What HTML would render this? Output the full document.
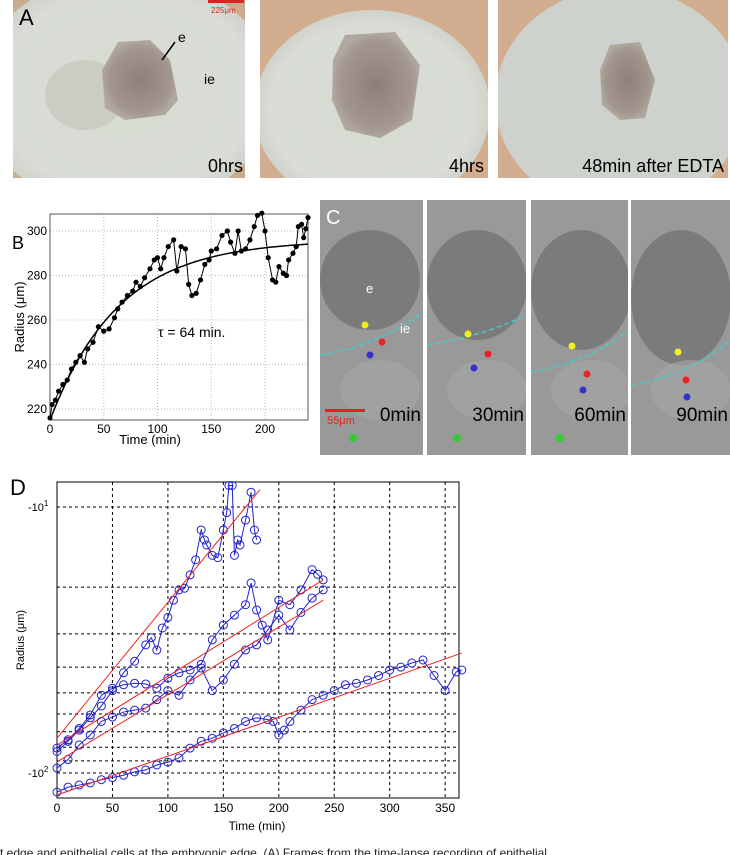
<!DOCTYPE html>
<html><head><meta charset="utf-8"><style>
body{margin:0;background:#fff;width:730px;height:855px;overflow:hidden;font-family:"Liberation Sans",sans-serif}
svg{display:block}
</style></head><body>
<svg id="fig" width="730" height="855" viewBox="0 0 730 855">
<defs>
<radialGradient id="disk" cx="50%" cy="50%" r="50%"><stop offset="0" stop-color="#d6dbd2"/><stop offset="0.85" stop-color="#d9ddd5"/><stop offset="1" stop-color="#cfd3cb"/></radialGradient>
<radialGradient id="blob" cx="50%" cy="50%" r="50%"><stop offset="0" stop-color="#8e8078"/><stop offset="0.8" stop-color="#a2968e"/><stop offset="1" stop-color="#b0a8a0"/></radialGradient>
<clipPath id="cA1"><rect x="13" y="0" width="232" height="178"/></clipPath>
<clipPath id="cA2"><rect x="260" y="0" width="228" height="178"/></clipPath>
<clipPath id="cA3"><rect x="498" y="0" width="230" height="178"/></clipPath>
<clipPath id="cC0"><rect x="320" y="200" width="103" height="255"/></clipPath>
<clipPath id="cC1"><rect x="427" y="200" width="99" height="255"/></clipPath>
<clipPath id="cC2"><rect x="531" y="200" width="97" height="255"/></clipPath>
<clipPath id="cC3"><rect x="631" y="200" width="99" height="255"/></clipPath>
</defs>
<g>
 <g clip-path="url(#cA1)">
  <rect x="13" y="0" width="232" height="178" fill="#c9ab90"/>
  <ellipse cx="125" cy="92" rx="150" ry="118" fill="url(#disk)"/>
  <ellipse cx="85" cy="95" rx="40" ry="35" fill="#c4c2ba" opacity="0.6"/>
  <path d="M118 42 L150 40 L170 60 L178 100 L165 115 L125 120 L105 108 L102 70 Z" fill="url(#blob)"/>
  <line x1="175" y1="42" x2="162" y2="60" stroke="#000" stroke-width="1.5"/>
  <text x="178" y="42" font-size="14">e</text>
  <text x="204" y="84" font-size="14">ie</text>
  <text x="19" y="25" font-size="22">A</text>
  <rect x="208" y="0" width="36" height="3" fill="#d22"/>
  <text x="211" y="13" font-size="8" fill="#d22">225μm</text>
  <text x="243" y="172" font-size="18" text-anchor="end">0hrs</text>
 </g>
 <g clip-path="url(#cA2)">
  <rect x="260" y="0" width="228" height="178" fill="#d3ad90"/>
  <ellipse cx="372" cy="110" rx="118" ry="100" fill="url(#disk)"/>
  <path d="M345 35 L395 32 L420 65 L412 120 L380 138 L345 130 L332 100 L333 60 Z" fill="url(#blob)"/>
  <text x="484" y="172" font-size="18" text-anchor="end">4hrs</text>
 </g>
 <g clip-path="url(#cA3)">
  <rect x="498" y="0" width="230" height="178" fill="#d3ad90"/>
  <ellipse cx="620" cy="100" rx="125" ry="112" fill="#cdd2cd"/>
  <path d="M610 45 L640 42 L655 80 L645 118 L620 120 L602 105 L600 70 Z" fill="url(#blob)"/>
  <text x="724" y="172" font-size="18" text-anchor="end">48min after EDTA</text>
 </g>
</g>
<g id="panelC"></g>
<g id="panelB"></g>
<g id="panelD"></g>
<text x="0" y="857" font-size="12" fill="#222">t edge and epithelial cells at the embryonic edge. (A) Frames from the time-lapse recording of epithelial</text>
</svg>
<script>
const NS='http://www.w3.org/2000/svg';
function mk(p,tag,a,txt){const e=document.createElementNS(NS,tag);for(const k in a)e.setAttribute(k,a[k]);if(txt!==undefined)e.textContent=txt;p.appendChild(e);return e;}

const cFrames=['0min','30min','60min','90min'];
const cX=[320,427,531,631],cW=[103,99,97,99];
const gC=document.getElementById('panelC');
cFrames.forEach((lab,i)=>{
 const g=mk(gC,'g',{'clip-path':'url(#cC'+i+')'});
 
 
 mk(g,'rect',{x:cX[i],y:200,width:cW[i],height:255,fill:'#999'});
 const dy=[0,10,20,35][i];
 mk(g,'ellipse',{cx:cX[i]+50,cy:280+dy/2,rx:50,ry:50+dy/2,fill:'#6e6e6e',opacity:0.7});
 mk(g,'ellipse',{cx:cX[i]+60,cy:390,rx:40,ry:30,fill:'#a6a6a6',opacity:0.6});
 const y0=[355,345,372,385][i], y1=[312,315,330,340][i];
 mk(g,'path',{d:`M${cX[i]} ${y0} Q${cX[i]+60} ${y0-10} ${cX[i]+cW[i]} ${y1}`,stroke:'#4cc',fill:'none','stroke-width':1.5,'stroke-dasharray':'5,3'});
 const ys=[[325,342,355],[334,354,368],[346,374,390],[352,380,397]][i];
 const xs=[[365,382,370],[468,488,474],[572,587,583],[678,686,687]][i];
 mk(g,'circle',{cx:xs[0],cy:ys[0],r:3.5,fill:'#ee2'});
 mk(g,'circle',{cx:xs[1],cy:ys[1],r:3.5,fill:'#e22'});
 mk(g,'circle',{cx:xs[2],cy:ys[2],r:3.5,fill:'#33c'});
 mk(g,'circle',{cx:[353,457,560,0][i],cy:438,r:4,fill:'#3c3',opacity:i<3?1:0});
 mk(g,'text',{x:cX[i]+cW[i]-2,y:421,'font-size':19,'text-anchor':'end'},lab);
});
mk(gC,'text',{x:326,y:224,'font-size':20,fill:'#fff'},'C');
mk(gC,'text',{x:366,y:293,'font-size':13,fill:'#fff'},'e');
mk(gC,'text',{x:400,y:333,'font-size':13,fill:'#fff'},'ie');
mk(gC,'rect',{x:325,y:409,width:40,height:3,fill:'#d22'});
mk(gC,'text',{x:327,y:424,'font-size':11,fill:'#d22'},'55μm');

const bTime=[0,2,5,8,12,16,20,24,28,32,35,40,45,50,55,60,63,67,72,77,80,84,88,93,97,100,103,106,110,115,118,122,126,129,132,136,140,144,148,150,155,160,165,168,172,175,178,182,186,190,193,197,200,203,207,210,213,217,220,222,226,229,231,234,236,238,240];
const bRadius=[216,222,224,228,231,233,238,241,244,241,247,250,257,255,256,261,265,268,271,273,277,275,279,283,287,288,283,288,293,296,282,293,292,276,271,272,278,285,287,291,292,298,300,295,290,300,291,292,296,302,307,308,300,288,278,277,284,281,280,287,290,293,302,303,297,301,306];
const bFitR0=215,bFitRinf=296,bTau=64;
const bXTicks=[0,50,100,150,200];
const bYTicks=[220,240,260,280,300];
(function(){
 const g=document.getElementById('panelB');
 const L=50,R=308,T=214,B=420;
 const xs=t=>L+t/240*(R-L);
 const ys=v=>409-(v-220)*(178/80);
 bXTicks.forEach(t=>{mk(g,'line',{x1:xs(t),x2:xs(t),y1:T,y2:B,stroke:'#bbb','stroke-dasharray':'1,2'});
  mk(g,'text',{x:xs(t),y:B+13,'font-size':12,'text-anchor':'middle'},String(t));});
 bYTicks.forEach(v=>{mk(g,'line',{x1:L,x2:R,y1:ys(v),y2:ys(v),stroke:'#bbb','stroke-dasharray':'1,2'});
  mk(g,'text',{x:L-3,y:ys(v)+4,'font-size':12,'text-anchor':'end'},String(v));});
 mk(g,'rect',{x:L,y:T,width:R-L,height:B-T,fill:'none',stroke:'#555'});
 let d='';for(let t=0;t<=240;t+=2){const v=bFitRinf-(bFitRinf-bFitR0)*Math.exp(-t/bTau);d+=(t?'L':'M')+xs(t).toFixed(1)+' '+ys(v).toFixed(1);}
 const fit=mk(g,'path',{d:d,stroke:'#000',fill:'none','stroke-width':1.5});
 
 const pl=mk(g,'polyline',{points:bTime.map((t,i)=>xs(t)+','+ys(bRadius[i])).join(' '),stroke:'#000',fill:'none','stroke-width':1});
 
 bTime.forEach((t,i)=>{const c=mk(g,'circle',{cx:xs(t),cy:ys(bRadius[i]),r:2.6,fill:'#000'});
  });
 mk(g,'text',{x:158,y:337,'font-size':14},'τ = 64 min.');
 mk(g,'text',{x:150,y:444,'font-size':13,'text-anchor':'middle'},'Time (min)');
 mk(g,'text',{x:24,y:317,'font-size':13,'text-anchor':'middle',transform:'rotate(-90 24 317)'},'Radius (μm)');
 mk(g,'text',{x:12,y:249,'font-size':18},'B');
})();

const dT1=[0,10,20,30,40,50,60,70,80,85,90,95,100,105,110,115,120,125,130,133,135,140,145,150,153,155,158,160,163,165,170,175,178,180];
const dV1=[83,76,69,62,56,49,42,38,33,31,34.5,28.5,26,22.4,20.5,20.2,18,15.8,12.2,13.3,13.9,15.2,15.5,12.2,10.5,8.3,8.3,15.2,13.3,13.9,11.2,8.8,12.2,13.3];
const dT2=[0,10,20,30,40,50,60,70,80,90,100,110,120,130,140,150,160,170,175,180,185,190,200,210,220,230,235,240];
const dV2=[80.6,75,68,60.5,51,48,46.6,46,46.3,48,44,42,41,39,31.6,27.8,25.5,23.3,19.3,24.4,27.8,31.6,22.4,23.3,20.5,17.2,17.9,18.8];
const dT3=[0,10,20,30,40,50,60,70,80,90,100,110,120,130,140,150,160,170,180,190,200,210,220,230,240];
const dV3=[95.8,89,78.5,72,64,61.6,59,58,57,53,49,51,44.7,40.3,49,44.7,39,34.5,33,29,25.5,29,24.9,22,20.5];
const dT4=[0,10,20,30,40,50,60,70,80,90,100,110,120,130,140,150,160,170,180,190,195,200,205,210,220,230,240,250,260,270,280,290,300,310,320,330,340,350,360,365];
const dV4=[118,113,111,109,106,104,102,99,97.4,93.3,91,87.8,80.6,76,74,70.7,68,64,62,63,64,72,69,64,58,53,51,49,46.6,46,44.7,43,41,40,38.6,37.6,43,49,41.7,41];
const dFit1=[[0,74],[183,8.6]];
const dFit2=[[0,78.5],[240,18.8]];
const dFit3=[[0,90.9],[240,22.4]];
const dFit4=[[0,121],[365,35.4]];
const dXTicks=[0,50,100,150,200,250,300,350];
const dYGrid=[10,20,30,40,50,60,70,80,90,100];
(function(){
 const g=document.getElementById('panelD');
 const L=57,R=459,T=482,B=798;
 const xs=t=>L+t*1.109;
 const ys=v=>773-266*Math.log10(100/v);
 dXTicks.forEach(t=>{mk(g,'line',{x1:xs(t),x2:xs(t),y1:T,y2:B,stroke:'#000','stroke-dasharray':'3,3','stroke-width':1});
  mk(g,'text',{x:xs(t),y:B+14,'font-size':12,'text-anchor':'middle'},String(t));});
 dYGrid.forEach(v=>{mk(g,'line',{x1:L,x2:R,y1:ys(v),y2:ys(v),stroke:'#000','stroke-dasharray':'3,3','stroke-width':1});});
 const t1=mk(g,'text',{x:28,y:511,'font-size':11},'-10');mk(t1,'tspan',{dy:-5,'font-size':8},'1');
 const t2=mk(g,'text',{x:28,y:777,'font-size':11},'-10');mk(t2,'tspan',{dy:-5,'font-size':8},'2');
 mk(g,'rect',{x:L,y:T,width:R-L,height:B-T,fill:'none',stroke:'#000'});
 [[dT1,dV1,dFit1],[dT2,dV2,dFit2],[dT3,dV3,dFit3],[dT4,dV4,dFit4]].forEach((s,k)=>{
  const [T_,V,F]=s;
  const pl=mk(g,'polyline',{points:T_.map((t,i)=>xs(t)+','+ys(V[i])).join(' '),stroke:'#22c',fill:'none','stroke-width':1});
  
  T_.forEach((t,i)=>{const c=mk(g,'circle',{cx:xs(t),cy:ys(V[i]),r:4,fill:'none',stroke:'#22c','stroke-width':1});
   });
  const f=mk(g,'line',{x1:xs(F[0][0]),y1:ys(F[0][1]),x2:xs(F[1][0]),y2:ys(F[1][1]),stroke:'#e22','stroke-width':1});
  
 });
 mk(g,'text',{x:257,y:830,'font-size':12,'text-anchor':'middle'},'Time (min)');
 mk(g,'text',{x:24,y:640,'font-size':11,'text-anchor':'middle',transform:'rotate(-90 24 640)'},'Radius (μm)');
 mk(g,'text',{x:10,y:495,'font-size':22},'D');
})();
</script>
</body></html>
